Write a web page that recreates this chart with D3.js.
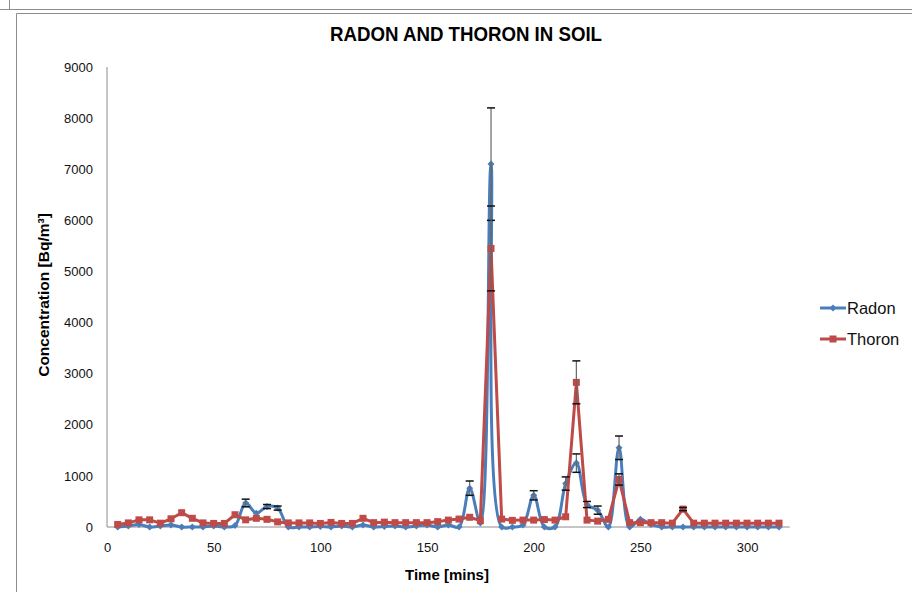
<!DOCTYPE html>
<html><head><meta charset="utf-8">
<script src="https://cdn.jsdelivr.net/npm/d3@7/dist/d3.min.js"></script>
<style>body{margin:0;background:#fff;}svg{display:block;}</style>
</head><body>
<script>
const times = d3.range(5, 320, 5);
const radon = [0,20,50,0,20,40,0,0,0,20,0,30,470,270,400,370,0,0,0,10,0,20,0,40,0,10,20,0,20,40,0,40,0,760,80,7100,0,0,40,620,0,0,850,1250,440,330,0,1550,0,150,50,0,0,0,0,0,0,0,0,0,0,0,0];
const thoron = [50,80,140,140,75,160,280,170,80,70,70,240,140,170,150,100,80,80,80,70,90,70,70,170,85,95,85,85,85,85,105,135,155,190,125,5450,155,130,135,135,145,135,200,2830,135,115,150,930,85,85,85,85,75,350,75,75,75,75,75,75,75,75,75];
const radonErr = {65:75,75:40,80:40,170:140,180:1100,200:90,215:130,220:180,225:60,230:80,240:230};
const thoronErr = {180:830,220:420,240:110,270:30};
const yTicks = [0,1000,2000,3000,4000,5000,6000,7000,8000,9000];
const xTicks = [0,50,100,150,200,250,300];
const seriesNames = ["Radon","Thoron"];
const colors = ["#4a7ebb","#be4b48"];
const FONT = "Liberation Sans, Arial, sans-serif";

const W = 912, H = 592;
const svg = d3.select("body").append("svg").attr("width", W).attr("height", H);
const x = d3.scaleLinear().domain([0, 320]).range([107, 789.7]);
const y = d3.scaleLinear().domain([0, 9000]).range([527, 67]);

// frame
svg.append("path").attr("d", "M0,9.5H912M9.5,0V9.5").attr("stroke", "#8c8c8c").attr("fill", "none");
svg.append("path").attr("d", "M16.5,592V13.5H912").attr("stroke", "#8c8c8c").attr("fill", "none");

// title
svg.append("text").attr("x", 466).attr("y", 41).attr("text-anchor", "middle")
  .attr("font-family", FONT).attr("font-weight", "bold")
  .attr("font-size", 20).attr("textLength", 272).attr("lengthAdjust", "spacingAndGlyphs")
  .text("RADON AND THORON IN SOIL");

// axes
const yAxis = d3.axisLeft(y).tickValues(yTicks).tickFormat(d3.format("d")).tickSize(0).tickPadding(14);
const gy = svg.append("g").attr("transform", "translate(107,0)").call(yAxis);
const xAxis = d3.axisBottom(x).tickValues(xTicks).tickFormat(d3.format("d")).tickSize(0).tickPadding(16);
const gx = svg.append("g").attr("transform", "translate(0,527)").call(xAxis);
[gx, gy].forEach(g => {
  g.select(".domain").attr("stroke", "#8c8c8c");
  g.selectAll("text").attr("font-family", FONT).attr("font-size", 13).attr("fill", "#111");
});
gy.select(".domain").attr("d", "M0,67V527");
gx.select(".domain").attr("d", "M107,0H789.7");

svg.append("text").attr("transform", "translate(49,295) rotate(-90)").attr("text-anchor", "middle")
  .attr("font-family", FONT).attr("font-weight", "bold").attr("font-size", 15.5)
  .text("Concentration [Bq/m³]");
svg.append("text").attr("x", 447).attr("y", 580).attr("text-anchor", "middle")
  .attr("font-family", FONT).attr("font-weight", "bold").attr("font-size", 15)
  .text("Time [mins]");

// lines
const lineSmooth = d3.line().x(d => x(d[0])).y(d => y(d[1])).curve(d3.curveCatmullRom.alpha(0.5));
const lineStraight = d3.line().x(d => x(d[0])).y(d => y(d[1]));
const rData = times.map((t, i) => [t, radon[i]]);
const tData = times.map((t, i) => [t, thoron[i]]);

svg.append("path").datum(rData).attr("d", lineSmooth).attr("fill", "none")
  .attr("stroke", colors[0]).attr("stroke-width", 3).attr("stroke-linejoin", "round");
svg.append("g").selectAll("path").data(rData).join("path")
  .attr("transform", d => `translate(${x(d[0])},${y(d[1])})`)
  .attr("d", "M0,-3.5L3.5,0L0,3.5L-3.5,0Z").attr("fill", colors[0]);

svg.append("path").datum(tData).attr("d", lineStraight).attr("fill", "none")
  .attr("stroke", colors[1]).attr("stroke-width", 3).attr("stroke-linejoin", "round");
svg.append("g").selectAll("rect").data(tData).join("rect")
  .attr("x", d => x(d[0]) - 3.5).attr("y", d => y(d[1]) - 3.5).attr("width", 7).attr("height", 7)
  .attr("fill", colors[1]);

// error bars
function errBars(data, errs) {
  const g = svg.append("g");
  data.forEach(d => {
    const e = errs[d[0]];
    if (!e) return;
    const cx = x(d[0]), y0 = y(d[1] - e), y1 = y(d[1] + e);
    g.append("line").attr("x1", cx).attr("x2", cx).attr("y1", y0).attr("y2", y1).attr("stroke", "#666").attr("stroke-width", 1.2);
    [y0, y1].forEach(yy => g.append("line").attr("x1", cx - 4).attr("x2", cx + 4).attr("y1", yy).attr("y2", yy)
      .attr("stroke", "#111").attr("stroke-width", 1.5));
  });
}
errBars(rData, radonErr);
errBars(tData, thoronErr);

// legend
seriesNames.forEach((name, i) => {
  const ly = 308 + i * 31;
  const g = svg.append("g");
  g.append("line").attr("x1", 820).attr("x2", 846).attr("y1", ly).attr("y2", ly).attr("stroke", colors[i]).attr("stroke-width", 3);
  if (i === 0) g.append("path").attr("transform", `translate(833,${ly})`).attr("d", "M0,-3.5L3.5,0L0,3.5L-3.5,0Z").attr("fill", colors[i]);
  else g.append("rect").attr("x", 829.5).attr("y", ly - 3.5).attr("width", 7).attr("height", 7).attr("fill", colors[i]);
  g.append("text").attr("x", 847).attr("y", ly + 6).attr("font-family", FONT)
    .attr("font-size", 16.5).attr("fill", "#111").text(name);
});
</script>
</body></html>
